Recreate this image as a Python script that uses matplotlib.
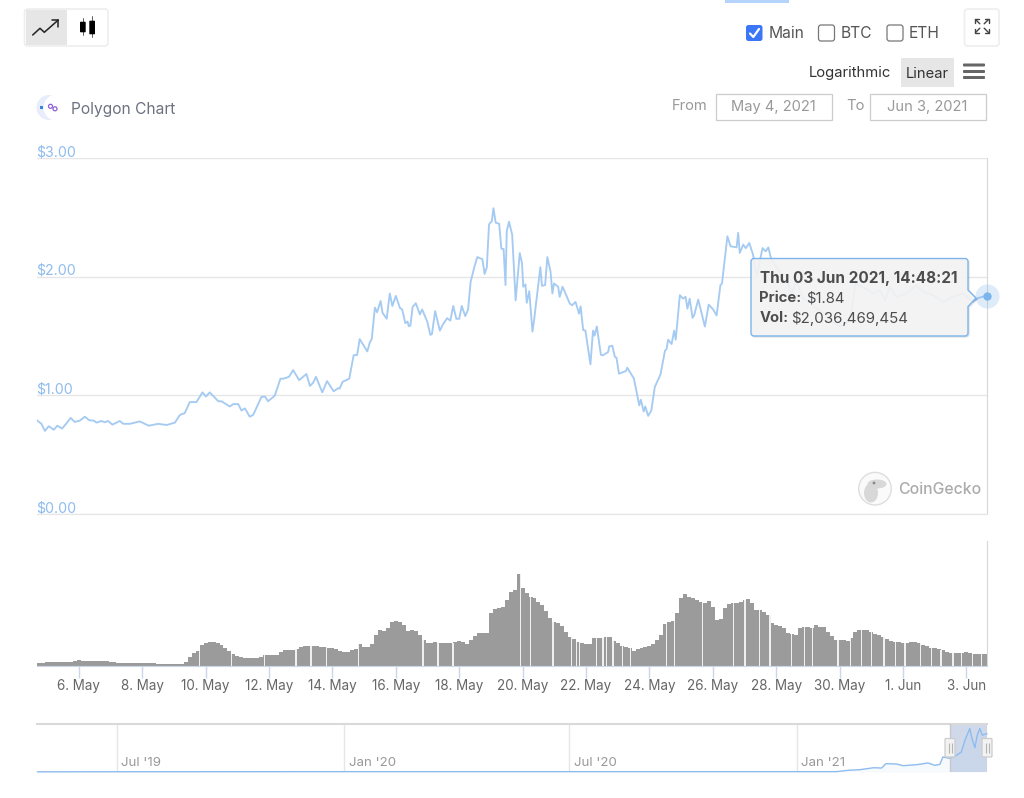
import numpy as np
import matplotlib
matplotlib.use("Agg")
import matplotlib.pyplot as plt
from matplotlib.patches import Rectangle, FancyBboxPatch, Circle, PathPatch, Ellipse
from matplotlib.path import Path
from matplotlib.transforms import ScaledTranslation

plt.rcParams['font.family'] = ['Inter', 'DejaVu Sans']

# ---------- data: x = day counted from 1 May 2021 (32 = 1 Jun)
price_days = [4.69,4.82,4.93,5.05,5.21,5.32,5.47,5.61,5.74,5.87,6.03,6.19,6.33,6.47,6.56,6.71,6.82,6.92,7.06,7.29,7.40,7.61,7.92,8.21,8.50,8.77,9.03,9.19,9.34,9.50,9.71,9.90,10.01,10.13,10.40,10.50,10.76,10.87,11.03,11.13,11.24,11.39,11.50,11.76,11.87,11.97,12.18,12.36,12.45,12.63,12.76,12.95,13.18,13.29,13.39,13.48,13.68,13.83,14.04,14.18,
14.23,14.32,14.53,14.67,14.78,14.86,15.10,15.18,15.24,15.34,15.41,15.52,15.58,15.71,15.81,15.89,16.00,16.13,16.20,16.30,16.37,16.41,16.46,16.53,16.63,16.76,16.83,16.99,17.09,17.14,17.24,17.39,17.49,17.62,17.72,17.81,17.91,18.00,18.08,18.19,18.28,18.36,18.49,18.57,18.73,18.80,18.87,18.94,19.03,19.08,19.15,19.26,19.33,19.40,19.46,19.50,19.57,19.67,19.78,19.91,19.98,20.02,20.09,20.13,20.21,20.31,20.36,20.56,20.61,20.71,20.78,20.88,20.94,20.99,21.12,21.17,21.26,21.49,21.56,21.67,21.78,21.83,21.91,21.98,22.14,22.22,22.27,22.34,22.47,22.54,22.70,22.73,22.83,22.91,22.96,23.04,23.26,23.30,23.51,23.68,23.73,23.82,23.87,23.96,24.06,24.17,24.35,24.49,24.54,24.59,24.70,24.78,24.83,24.96,
25.06,25.14,25.20,25.27,25.36,25.41,25.54,25.75,25.87,26.01,26.12,26.24,26.29,26.46,26.56,26.75,26.80,26.85,26.96,27.04,27.15,27.27,27.38,27.57,27.67,27.75,27.85,28.11,28.32,28.48,28.64,28.85,29.06,29.27,29.53,29.80,30.01,30.16,30.32,30.51,30.69,30.90,31.06,31.27,31.43,31.58,31.79,32.11,32.42,32.63,32.95,33.27,33.58,33.90,34.21,34.37,34.65]
price_vals = [.787,.76,.70,.74,.71,.744,.72,.764,.81,.776,.787,.82,.79,.787,.77,.784,.773,.784,.753,.784,.76,.76,.78,.744,.76,.75,.77,.835,.85,.943,.943,1.025,.99,1.025,.95,.95,.906,.926,.926,.872,.89,.82,.835,.986,.99,.95,.997,1.14,1.14,1.156,1.213,1.128,1.18,1.08,1.105,1.156,1.025,1.12,1.034,1.06,
1.057,1.114,1.14,1.338,1.34,1.474,1.37,1.446,1.474,1.739,1.70,1.795,1.696,1.645,1.858,1.753,1.838,1.736,1.724,1.608,1.622,1.582,1.588,1.744,1.776,1.682,1.724,1.622,1.509,1.517,1.71,1.545,1.60,1.65,1.63,1.753,1.645,1.645,1.753,1.668,1.724,1.957,2.094,2.165,2.148,2.023,2.077,2.44,2.469,2.577,2.455,2.446,2.236,2.233,1.929,2.384,2.463,2.355,1.80,2.199,2.114,1.915,1.935,1.78,1.878,1.537,1.63,2.08,1.923,1.929,2.165,2.043,1.858,1.943,1.915,1.83,1.915,1.773,1.759,1.787,1.688,1.75,1.551,1.545,1.261,1.545,1.503,1.58,1.341,1.338,1.366,1.412,1.418,1.324,1.318,1.182,1.205,1.233,1.142,.915,.963,.864,.906,.827,.872,1.071,1.176,1.375,1.389,1.469,1.432,1.545,1.469,1.844,
1.815,1.83,1.73,1.815,1.653,1.673,1.807,1.58,1.764,1.724,1.673,1.929,1.943,2.34,2.256,2.247,2.369,2.2,2.27,2.24,2.284,2.185,2.0,2.241,2.213,2.247,2.14,2.04,2.0,1.858,1.957,1.815,1.787,1.73,1.69,1.616,1.58,1.6,1.63,1.943,1.915,1.886,1.858,1.886,1.80,1.915,1.83,1.858,1.929,1.872,1.844,1.787,1.83,1.858,1.79,1.82,1.84]

# volume in $ billions, one reading every eighth of a day from day 4.75
vol_vals = [.57,.57,.68,.68,.68,.68,.68,.74,.74,.85,.96,.85,.79,.85,.91,.91,.91,.85,.68,.62,.57,.57,.57,.57,.57,.57,.57,.51,.45,.45,.40,.34,.28,.28,.28,.28,.34,
.68,1.59,2.27,2.6,3.57,3.97,4.14,4.03,3.97,3.57,3.0,2.6,2.04,1.76,1.59,1.42,1.36,1.36,1.36,1.47,1.87,1.87,1.87,1.87,2.32,2.66,2.72,2.66,2.84,3.18,3.4,3.46,3.4,3.35,3.23,3.18,3.12,3.06,2.89,2.6,2.32,2.32,2.72,2.89,3.74,3.18,3.18,3.69,5.27,6.12,6.0,6.4,7.43,7.71,7.54,6.97,6.0,6.12,5.9,5.27,4.42,3.86,
3.97,4.08,3.86,3.97,3.86,3.86,4.14,4.25,4.03,3.74,4.42,5.16,5.56,5.61,5.67,
8.96,9.64,9.92,9.98,11.2,12.6,12.9,15.65,13.2,12.4,11.8,11.5,10.8,10.4,9.41,8.11,7.54,7.26,6.8,5.84,4.99,4.54,4.14,3.86,3.74,3.74,4.71,4.71,4.71,4.88,4.99,4.31,3.97,3.46,3.18,3.0,2.61,2.84,3.12,3.29,3.4,3.74,4.42,5.27,7.14,7.54,7.71,8.96,11.5,12.2,11.8,11.5,11.2,10.8,10.66,
11.1,10.1,7.82,7.94,9.81,10.55,10.66,10.77,10.94,11.3,11.4,10.66,9.53,9.53,9.24,8.68,7.26,6.97,6.8,6.41,5.56,5.39,5.27,6.41,6.58,6.58,6.52,6.97,6.69,6.58,5.84,5.1,4.42,4.42,4.42,4.25,4.71,5.84,6.12,6.12,6.12,5.73,5.39,5.27,4.88,4.54,4.25,4.14,4.14,3.97,3.97,4.08,4.14,3.97,3.57,3.4,3.12,3.0,2.95,2.72,2.32,2.21,2.15,2.15,2.27,2.32,2.15,2.10,2.04,2.04,2.04]
vol_days = 4.75 + 0.125 * np.arange(len(vol_vals))
streak_days = [9.8,10.82,11.85,12.85,13.32,13.81,14.83,16.86,17.33,17.8,19.93,20.25,20.96,21.54,21.7,21.8,22.33,22.54,22.64,22.85,23.15,23.41,24.54,24.8,25.67,26.66,27.01,27.48,27.8,28.48,28.9,29.14,29.95,30.34,30.69,31.0,31.4,31.76,32.06,32.55,32.9,33.2,33.58,33.84,34.2,34.48]

tick_days = [6,8,10,12,14,16,18,20,22,24,26,28,30,32,34]
tick_labels = ['6. May','8. May','10. May','12. May','14. May','16. May','18. May','20. May','22. May','24. May','26. May','28. May','30. May','1. Jun','3. Jun']
price_ticks = [0,1,2,3]
price_tick_labels = ['$0.00','$1.00','$2.00','$3.00']

# navigator: x = days from 1 Jan 2021, y = price
nav_days = [-614,-550,-366,-200,-30,0,32,41.5,51,62,68.5,72,80.6,86,97,106,111.6,115.6,118,123.7,129,133,135.8,139.8,141.6,143.9,145.8,147.9,150,151.2,153.6]
nav_vals = [.01,.015,.02,.02,.02,.02,.02,.10,.137,.25,.235,.49,.47,.37,.43,.53,.39,.45,.88,.80,.98,1.18,1.86,2.55,1.96,1.43,2.16,2.55,2.16,2.2,2.25]
nav_tick_days = [-550,-366,-184,0]
nav_tick_labels = ["Jul '19","Jan '20","Jul '20","Jan '21"]

W, H = 1024, 798
fig = plt.figure(figsize=(W/100, H/100), dpi=100, facecolor='white')
def axbox(l, t, r, b):
    return [l/W, (H-b)/H, (r-l)/W, (b-t)/H]
XL = 37; XR = 987
xlim = (4.68, 34.65)
GRID = '#e6e6e6'; BORDER = '#d8d8d8'; LINE = '#a6cbf2'; ACC = '#7cb5ec'

# ---------- price
ax = fig.add_axes(axbox(XL, 158, XR, 514), zorder=1)
ax.plot(price_days, price_vals, color=LINE, lw=1.35, solid_joinstyle='round', zorder=3)
ax.set_xlim(*xlim); ax.set_ylim(0, 3)
ax.set_yticks(price_ticks); ax.set_yticklabels(price_tick_labels)
ax.set_xticks([])
ax.grid(axis='y', color=GRID, lw=1)
ax.set_axisbelow(True)
ax.tick_params(axis='y', length=0, pad=0, labelsize=10.2, labelcolor='#8fbcee')
shift = ScaledTranslation(-1/100, -1.2/100, fig.dpi_scale_trans)
for t in ax.yaxis.get_major_ticks():
    t.label1.set_ha('left'); t.label1.set_va('bottom')
    t.label1.set_transform(t.label1.get_transform() + shift)
for s in ['top', 'left']:
    ax.spines[s].set_visible(False)
ax.spines['bottom'].set_color(GRID); ax.spines['right'].set_color(BORDER)
ax.scatter([price_days[-1]], [price_vals[-1]], s=300, color=ACC, alpha=.25, lw=0, clip_on=False, zorder=4)
ax.scatter([price_days[-1]], [price_vals[-1]], s=36, color=ACC, lw=0, clip_on=False, zorder=5)

# ---------- volume
av = fig.add_axes(axbox(XL, 541, XR, 666), zorder=1)
av.bar(vol_days, vol_vals, width=0.125, color='#9b9b9b', lw=0, zorder=2)
sh = [vol_vals[int(round((d-4.75)/0.125))] for d in streak_days]
av.bar(streak_days, sh, width=0.045, color='#f0f0f0', lw=0, zorder=3)
av.set_xlim(*xlim); av.set_ylim(0, 21.25)
av.set_yticks([])
av.set_xticks(tick_days); av.set_xticklabels(tick_labels)
av.tick_params(axis='x', length=8.5, width=1, color='#ccd6eb', labelsize=9.7, labelcolor='#666666', pad=0.6)
for s in ['top', 'left']:
    av.spines[s].set_visible(False)
av.spines['bottom'].set_color('#ccd6eb'); av.spines['right'].set_color(BORDER)

# ---------- navigator
an = fig.add_axes(axbox(XL, 724, XR, 772), zorder=1)
nav_xlim = (-614.4, 153.7)
an.set_xlim(*nav_xlim); an.set_ylim(0, 2.82)
an.axvspan(123.7, 153.7, color='#cfd9ea', lw=0, zorder=1)
an.fill_between(nav_days, nav_vals, color='#7cb5ec', alpha=.06, lw=0, zorder=2)
an.plot(nav_days, nav_vals, color='#8dbcee', lw=1.0, zorder=3, clip_on=False)
an.set_yticks([])
an.set_xticks(nav_tick_days); an.set_xticklabels([])
an.grid(axis='x', color='#e6e6e6', lw=1)
an.set_axisbelow(True)
an.tick_params(axis='x', length=0)
for d, s in zip(nav_tick_days, nav_tick_labels):
    an.annotate(s, (d, 0), xytext=(3.3, 2.2), textcoords='offset points', color='#999999', fontsize=9.6, va='bottom', ha='left')
for s in ['left', 'right', 'bottom']:
    an.spines[s].set_visible(False)
an.spines['top'].set_color('#d9d9d9'); an.spines['top'].set_linewidth(1.5)
an.plot([123.7,123.7],[0,2.82], color='#c8c8c8', lw=1, zorder=4)
an.plot([153.5,153.5],[0,2.82], color='#c8c8c8', lw=1, zorder=4)

# ---------- page furniture, drawn in pixel coordinates
ov = fig.add_axes([0, 0, 1, 1], zorder=5)
ov.set_xlim(0, W); ov.set_ylim(H, 0); ov.axis('off'); ov.patch.set_alpha(0)

def T(x, y, s, ha='left', px=14, c='#555555', w='normal', z=20):
    return ov.text(x, y+1, s, ha=ha, va='center', fontsize=px*.72, color=c, fontweight=w, zorder=z)
def R(x0, y0, x1, y1, fc='white', ec='none', lw=1, r=0, z=5):
    if r:
        p = FancyBboxPatch((x0+r, y0+r), x1-x0-2*r, y1-y0-2*r, boxstyle=f'round,pad={r},rounding_size={r}', fc=fc, ec=ec, lw=lw, zorder=z)
    else:
        p = Rectangle((x0, y0), x1-x0, y1-y0, fc=fc, ec=ec, lw=lw, zorder=z)
    ov.add_patch(p); return p
def L(xs, ys, c='#222222', lw=1.1, z=10, cap='round'):
    ov.plot(xs, ys, color=c, lw=lw, zorder=z, solid_capstyle=cap, solid_joinstyle='round')

# chart-type buttons
R(24.5, 9, 108, 46, fc='white', ec='#eeeeee', lw=1.2, r=3, z=4)
R(25.5, 10, 67, 45, fc='#e6e6e6', z=5)
L([32.7, 40, 44.3, 58.3], [35, 28.3, 32.3, 20])
L([51.7, 58.3, 58.3], [20, 20, 26.7])
for wx, wt, wb, bx0, bx1, bt, bb in [(82.8, 18.3, 35, 80, 85.7, 21.7, 32.3), (92, 16, 37.3, 89.3, 95, 20.7, 34.3)]:
    L([wx, wx], [wt, wb], c='#444444', lw=.6)
    R(bx0, bt, bx1, bb, fc='black', r=.8, z=11)

# tab line, checkboxes
R(725, 0, 789, 2.5, fc='#b5d4fb')
R(746, 25, 762.5, 41, fc='#3b76f6', r=2.5)
L([750, 753.3, 759], [33.5, 37, 29], c='white', lw=1.6, z=11)
R(818.5, 25, 834.5, 41, fc='white', ec='#777777', lw=.9, r=2.5)
R(887, 25, 903, 41, fc='white', ec='#777777', lw=.9, r=2.5)
T(769, 32.5, 'Main', px=15.6); T(841, 32.5, 'BTC', px=15.6); T(909, 32.5, 'ETH', px=15.6)

# expand button
R(964.5, 9, 999, 46, fc='white', ec='#eeeeee', lw=1.2, r=3)
for sx, sy in [(-1,-1),(1,-1),(-1,1),(1,1)]:
    cx, cy = 982, 26
    L([cx+sx*2.2, cx+sx*6.5], [cy+sy*2.2, cy+sy*6.5], c='#444444', lw=1)
    L([cx+sx*6.8, cx+sx*6.8, cx+sx*2.8], [cy+sy*2.8, cy+sy*6.8, cy+sy*6.8], c='#444444', lw=1)

# scale buttons
T(809, 72.5, 'Logarithmic', px=14.8, c='#333333')
R(900.5, 57.5, 954, 87, fc='#e6e6e6')
T(927, 72.5, 'Linear', ha='center', px=14.8, c='#333333')
for y in [65, 71.5, 77.5]:
    R(963, y-1.5, 985, y+1.5, fc='#666666', r=1)

# date range
T(672, 105.5, 'From', px=14.7, c='#999999')
T(846, 105.5, 'To', px=14.7, c='#999999')
R(716, 93.5, 831.5, 119.5, fc='white', ec='#cccccc', lw=.9)
R(870, 93.5, 985.5, 119.5, fc='white', ec='#cccccc', lw=.9)
T(773.5, 105.5, 'May 4, 2021', ha='center', px=14.7, c='#999999')
T(927.5, 105.5, 'Jun 3, 2021', ha='center', px=14.7, c='#999999')

# logo and title
ov.add_patch(Circle((49, 107.5), 12.5, fc='#e8edfb', ec='none', zorder=5))
ov.add_patch(Circle((56.5, 107.5), 13, fc='white', ec='none', zorder=6))
R(39.5, 106, 43, 109, fc='#3b82e8', z=7)
ov.add_patch(Circle((50.5, 106.3), 2, fc='none', ec='#8f5fd6', lw=.9, zorder=7))
ov.add_patch(Circle((55, 108.8), 2, fc='none', ec='#8f5fd6', lw=.9, zorder=7))
T(71, 108.5, 'Polygon Chart', px=15.5, c='#6b7280')

# watermark
ov.add_patch(Circle((875, 488.7), 16.3, fc='#fafafa', ec='#dedede', lw=1, zorder=3))
ov.add_patch(Ellipse((871, 493), 14, 19, fc='#d8d8d8', ec='none', zorder=4))
ov.add_patch(Ellipse((877, 484), 19, 9, fc='#d8d8d8', ec='none', zorder=4))
ov.add_patch(Circle((874, 483), 1.4, fc='#888888', ec='none', zorder=5))
T(898, 488, 'CoinGecko', px=15.8, c='#ababab', w='medium', z=4)

# tooltip
x0, x1, y0, y1, r = 751, 968, 258.5, 336, 3
verts = [(x0+r,y0),(x1-r,y0),(x1,y0),(x1,y0+r),(x1,290),(976,298),(x1,306.5),(x1,y1-r),(x1,y1),(x1-r,y1),(x0+r,y1),(x0,y1),(x0,y1-r),(x0,y0+r),(x0,y0),(x0+r,y0)]
codes = [Path.MOVETO,Path.LINETO,Path.CURVE3,Path.CURVE3,Path.LINETO,Path.LINETO,Path.LINETO,Path.LINETO,Path.CURVE3,Path.CURVE3,Path.LINETO,Path.CURVE3,Path.CURVE3,Path.LINETO,Path.CURVE3,Path.CURVE3]
shadow = Path([(vx+1.2, vy+1.2) for vx, vy in verts], codes)
ov.add_patch(PathPatch(shadow, fc='#000000', ec='#000000', lw=1, alpha=.07, zorder=14))
ov.add_patch(PathPatch(Path(verts, codes), fc=(.955,.955,.955,.92), ec=ACC, lw=1, zorder=15))
T(759.5, 277.5, 'Thu 03 Jun 2021, 14:48:21', px=15.3, c='#4d4d4d', w='bold')
T(759.5, 297.5, 'Price:', px=14.8, c='#4d4d4d', w='bold')
T(806, 297.5, '$1.84', px=14.8, c='#4d4d4d')
T(759.5, 317, 'Vol:', px=14.8, c='#4d4d4d', w='bold')
T(791, 317, '$2,036,469,454', px=15, c='#4d4d4d')

# navigator handles
for hx0 in (945, 982):
    R(hx0, 738.5, hx0+10, 757, fc='#f2f2f2', ec='#cccccc', lw=.9, r=1, z=12)
    L([hx0+4, hx0+4], [742.5, 753], c='#b5b5b5', lw=.8, z=13, cap='butt')
    L([hx0+6.5, hx0+6.5], [742.5, 753], c='#b5b5b5', lw=.8, z=13, cap='butt')

fig.savefig('out.png', dpi=100)
